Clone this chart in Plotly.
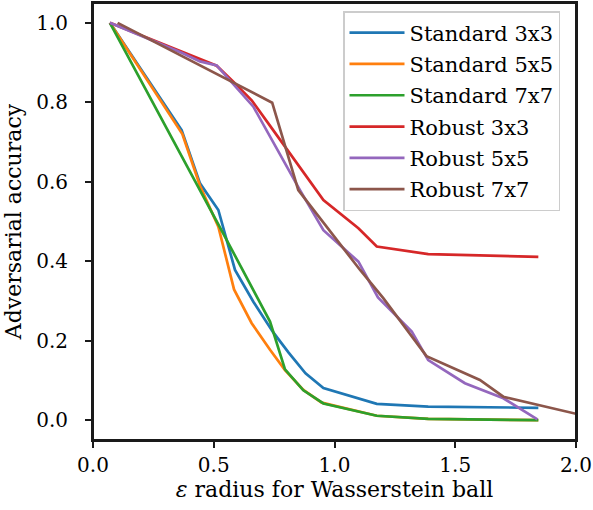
import plotly.graph_objects as go

# ---- data ----
std3_x = [0.07, 0.367, 0.443, 0.519, 0.588, 0.664, 0.745, 0.81, 0.88, 0.954, 1.175, 1.388, 1.844]
std3_y = [1.0, 0.73, 0.596, 0.529, 0.378, 0.298, 0.222, 0.17, 0.118, 0.081, 0.041, 0.034, 0.031]

std5_x = [0.07, 0.37, 0.443, 0.519, 0.584, 0.657, 0.733, 0.795, 0.871, 0.947, 1.175, 1.388, 1.844]
std5_y = [1.0, 0.72, 0.59, 0.487, 0.329, 0.244, 0.177, 0.126, 0.076, 0.044, 0.011, 0.003, 0.0]

std7_x = [0.07, 0.37, 0.519, 0.733, 0.795, 0.871, 0.954, 1.175, 1.388, 1.844]
std7_y = [1.0, 0.662, 0.493, 0.248, 0.128, 0.075, 0.042, 0.011, 0.003, 0.0]

rob3_x = [0.07, 0.367, 0.512, 0.581, 0.657, 0.74, 0.81, 0.88, 0.954, 1.099, 1.175, 1.388, 1.844]
rob3_y = [1.0, 0.927, 0.892, 0.852, 0.805, 0.735, 0.675, 0.615, 0.554, 0.483, 0.437, 0.418, 0.411]

rob5_x = [0.07, 0.367, 0.443, 0.512, 0.664, 0.857, 0.954, 1.099, 1.18, 1.32, 1.388, 1.54, 1.699, 1.84]
rob5_y = [1.0, 0.925, 0.903, 0.893, 0.789, 0.579, 0.478, 0.399, 0.309, 0.223, 0.151, 0.093, 0.055, 0.002]

rob7_x = [0.102, 0.742, 0.85, 1.106, 1.202, 1.381, 1.602, 1.699, 2.0]
rob7_y = [1.0, 0.799, 0.579, 0.378, 0.307, 0.161, 0.101, 0.059, 0.016]

names = ["Standard 3x3", "Standard 5x5", "Standard 7x7",
         "Robust 3x3", "Robust 5x5", "Robust 7x7"]
colors = ["#1f77b4", "#ff7f0e", "#2ca02c", "#d62728", "#9467bd", "#8c564b"]
series = [(std3_x, std3_y), (std5_x, std5_y), (std7_x, std7_y),
          (rob3_x, rob3_y), (rob5_x, rob5_y), (rob7_x, rob7_y)]

x_ticks = [0.0, 0.5, 1.0, 1.5, 2.0]
y_ticks = [0.0, 0.2, 0.4, 0.6, 0.8, 1.0]

FONT = "DejaVu Serif"

fig = go.Figure()
for i, ((xs, ys), name, col) in enumerate(zip(series, names, colors)):
    fig.add_trace(go.Scatter(
        x=xs, y=ys, mode="lines", name=name,
        line=dict(color=col, width=2.7),
        legendgroup=f"g{i}",
    ))

axis_common = dict(
    showgrid=False, zeroline=False, automargin=False,
    showline=True, linecolor="#1a1a1a", linewidth=2, mirror=True,
    ticks="outside", ticklen=6, tickwidth=1.5, tickcolor="#1a1a1a",
    tickfont=dict(family=FONT, size=20, color="black"),
)

# frame around the plotting area (matplotlib-style spines)
fig.add_shape(type="rect", xref="paper", yref="paper", x0=0, x1=1, y0=0, y1=1,
              line=dict(color="#1a1a1a", width=2), layer="above")

fig.update_layout(
    width=593, height=510,
    margin=dict(l=93, r=17, t=3, b=70),
    paper_bgcolor="white", plot_bgcolor="white",
    hovermode=False,
    font=dict(family=FONT, size=20, color="black"),
    xaxis=dict(range=[0, 2.0], tickvals=x_ticks,
               ticktext=[f"{v:.1f}" for v in x_ticks],
               title=dict(text="<i>ε</i> radius for Wasserstein ball",
                          font=dict(family=FONT, size=22), standoff=6),
               **axis_common),
    yaxis=dict(range=[-0.05, 1.05], tickvals=y_ticks,
               ticktext=[f"{v:.1f}" for v in y_ticks],
               ticklabelstandoff=13,
               title=dict(text="Adversarial accuracy",
                          font=dict(family=FONT, size=22), standoff=8),
               **axis_common),
    legend=dict(
        x=(343 - 93) / 483, y=(440 - 11) / 437, xanchor="left", yanchor="top",
        bgcolor="rgba(255,255,255,0.85)", bordercolor="#cccccc", borderwidth=1.5,
        font=dict(family=FONT, size=21, color="black"),
        traceorder="grouped", tracegroupgap=1, itemwidth=55,
    ),
    showlegend=True,
)

fig.write_html("out.html",
               config={"displayModeBar": False},
               post_script="document.body.style.margin='0';document.body.style.overflow='hidden';")
